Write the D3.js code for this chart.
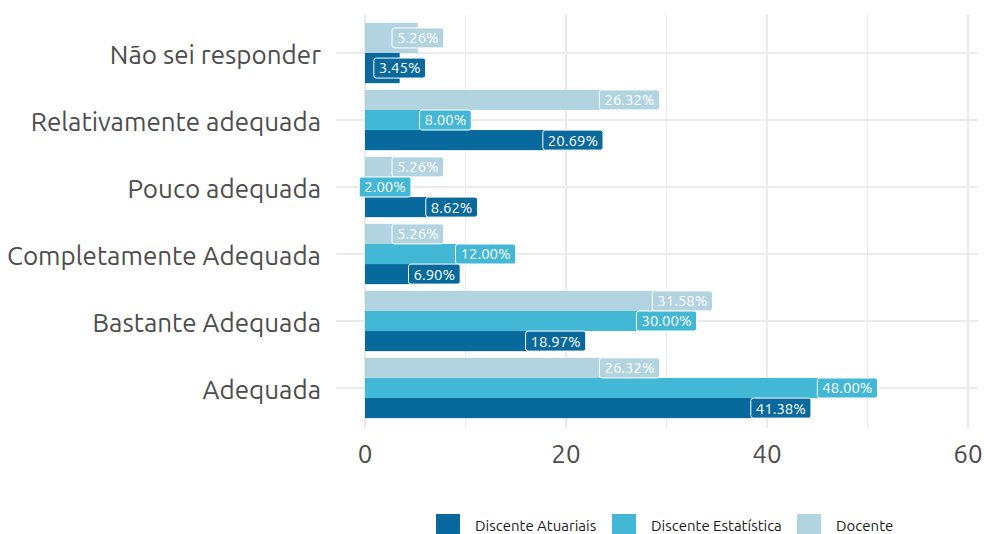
<!DOCTYPE html>
<html>
<head>
<meta charset="utf-8">
<script src="https://cdn.jsdelivr.net/npm/d3@7"></script>
<style>
  body { margin: 0; background: #fff; }
  text { font-family: "Ubuntu", "Noto Sans", sans-serif; }
</style>
</head>
<body>
<svg></svg>
<script>
// Chart data (top to bottom order of categories)
const categories = ["Não sei responder", "Relativamente adequada", "Pouco adequada",
  "Completamente Adequada", "Bastante Adequada", "Adequada"];
const seriesNames = ["Discente Atuariais", "Discente Estatística", "Docente"];
const colors = ["#08699c", "#42b7d6", "#b2d4e0"];
const atuariais = [3.45, 20.69, 8.62, 6.90, 18.97, 41.38];
const estatistica = [null, 8.00, 2.00, 12.00, 30.00, 48.00];
const docente = [5.26, 26.32, 5.26, 5.26, 31.58, 26.32];
const xTicks = [0, 20, 40, 60];

const width = 984, height = 534;
const svg = d3.select("svg")
    .attr("width", width)
    .attr("height", height);

const panel = { left: 336, right: 978, top: 14, bottom: 428 };

const x = d3.scaleLinear().domain([0, 60]).range([365, 968]);
const y = d3.scalePoint().domain(categories).range([53, 388]);
const step = y.step();

// Gridlines
const grid = svg.append("g");
[10, 30, 50].forEach(v => {
  grid.append("line")
      .attr("x1", x(v)).attr("x2", x(v))
      .attr("y1", panel.top).attr("y2", panel.bottom)
      .attr("stroke", "#ebebeb").attr("stroke-width", 1);
});
xTicks.forEach(v => {
  grid.append("line")
      .attr("x1", x(v)).attr("x2", x(v))
      .attr("y1", panel.top).attr("y2", panel.bottom)
      .attr("stroke", "#ebebeb").attr("stroke-width", 2.2);
});
categories.forEach(c => {
  grid.append("line")
      .attr("x1", panel.left).attr("x2", panel.right)
      .attr("y1", y(c)).attr("y2", y(c))
      .attr("stroke", "#ebebeb").attr("stroke-width", 2.2);
});

// Build bar records: within a category, Docente on top, Atuariais at bottom
const bars = [];
categories.forEach((c, i) => {
  const vals = [
    { s: 2, v: docente[i] },
    { s: 1, v: estatistica[i] },
    { s: 0, v: atuariais[i] }
  ].filter(d => d.v !== null);
  const total = step * 0.9;
  const h = total / vals.length;
  vals.forEach((d, j) => {
    bars.push({ cat: c, s: d.s, v: d.v, y0: y(c) - total / 2 + j * h, h: h });
  });
});

svg.append("g").selectAll("rect")
    .data(bars)
    .enter()
    .append("rect")
    .attr("x", x(0))
    .attr("y", d => d.y0)
    .attr("width", d => x(d.v) - x(0))
    .attr("height", d => d.h)
    .attr("fill", d => colors[d.s]);

// Value labels
const labels = svg.append("g").selectAll("g")
    .data(bars)
    .enter()
    .append("g")
    .attr("transform", d => `translate(${x(d.v)},${d.y0 + d.h / 2})`);

labels.append("text")
    .attr("text-anchor", "middle")
    .attr("dy", "0.36em")
    .attr("font-size", 15)
    .attr("fill", "#ffffff")
    .text(d => d.v.toFixed(2) + "%")
    .each(function(d) {
      const w = this.getComputedTextLength() + 10;
      d3.select(this.parentNode).insert("rect", "text")
          .attr("x", -w / 2)
          .attr("y", -10)
          .attr("width", w)
          .attr("height", 20)
          .attr("rx", 2.5)
          .attr("fill", colors[d.s])
          .attr("stroke", "#ffffff")
          .attr("stroke-width", 1);
    });

// Axis labels
svg.append("g").selectAll("text")
    .data(categories)
    .enter()
    .append("text")
    .attr("x", 321)
    .attr("y", d => y(d) + 2)
    .attr("dy", "0.36em")
    .attr("text-anchor", "end")
    .attr("font-size", 26)
    .attr("fill", "#4d4d4d")
    .text(d => d);

svg.append("g").selectAll("text")
    .data(xTicks)
    .enter()
    .append("text")
    .attr("x", d => x(d))
    .attr("y", 454)
    .attr("dy", "0.36em")
    .attr("text-anchor", "middle")
    .attr("font-size", 26)
    .attr("fill", "#4d4d4d")
    .text(d => d);

// Legend
const legendX = [436, 612, 797];
const legend = svg.append("g").selectAll("g")
    .data(seriesNames)
    .enter()
    .append("g")
    .attr("transform", (d, i) => `translate(${legendX[i]},514)`);

legend.append("rect")
    .attr("width", 24)
    .attr("height", 20)
    .attr("fill", (d, i) => colors[i]);

legend.append("text")
    .attr("x", 39)
    .attr("y", 11.5)
    .attr("dy", "0.36em")
    .attr("font-size", 15)
    .attr("fill", "#1a1a1a")
    .text(d => d);
</script>
</body>
</html>
